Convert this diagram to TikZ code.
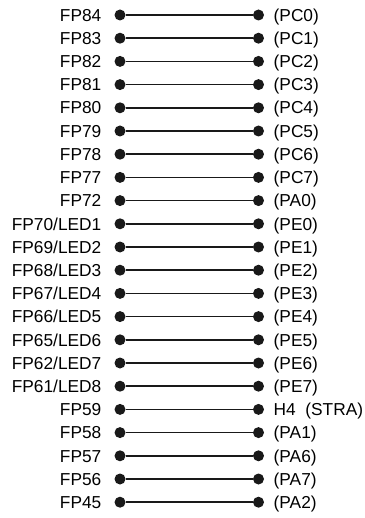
\documentclass[tikz,border=0pt]{standalone}
\usepackage{fontspec}
\setmainfont{Liberation Sans}
\begin{document}
\begin{tikzpicture}[
  x=1pt, y=-1pt,
  pin/.style={circle, fill=black!90, inner sep=0pt, minimum size=11pt},
  lbl/.style={inner sep=0pt, font=\fontsize{17.3}{19}\selectfont},
  wire/.style={draw, line width=1.5pt, black!90}
]
\useasboundingbox (0,0) rectangle (364,518);
\foreach \fp/\port [count=\i] in {
    FP84/{(PC0)}, FP83/{(PC1)}, FP82/{(PC2)}, FP81/{(PC3)},
    FP80/{(PC4)}, FP79/{(PC5)}, FP78/{(PC6)}, FP77/{(PC7)},
    FP72/{(PA0)},
    {FP70/LED1}/{(PE0)}, {FP69/LED2}/{(PE1)}, {FP68/LED3}/{(PE2)},
    {FP67/LED4}/{(PE3)}, {FP66/LED5}/{(PE4)}, {FP65/LED6}/{(PE5)},
    {FP62/LED7}/{(PE6)}, {FP61/LED8}/{(PE7)},
    FP59/{H4~~(STRA)}, FP58/{(PA1)}, FP57/{(PA6)}, FP56/{(PA7)}, FP45/{(PA2)}} {
  \node[pin] (l\i) at (120, {15+(\i-1)*23.2}) {};
  \node[pin] (r\i) at (258.5, {15+(\i-1)*23.2}) {};
  \draw[wire] (l\i) -- (r\i);
  \node[lbl, anchor=base east] (fp\i) at (101.5, {21.2+(\i-1)*23.2}) {\fp};
  \node[lbl, anchor=base west] (port\i) at (273.5, {21.2+(\i-1)*23.2}) {\port};
}
\end{tikzpicture}
\end{document}
